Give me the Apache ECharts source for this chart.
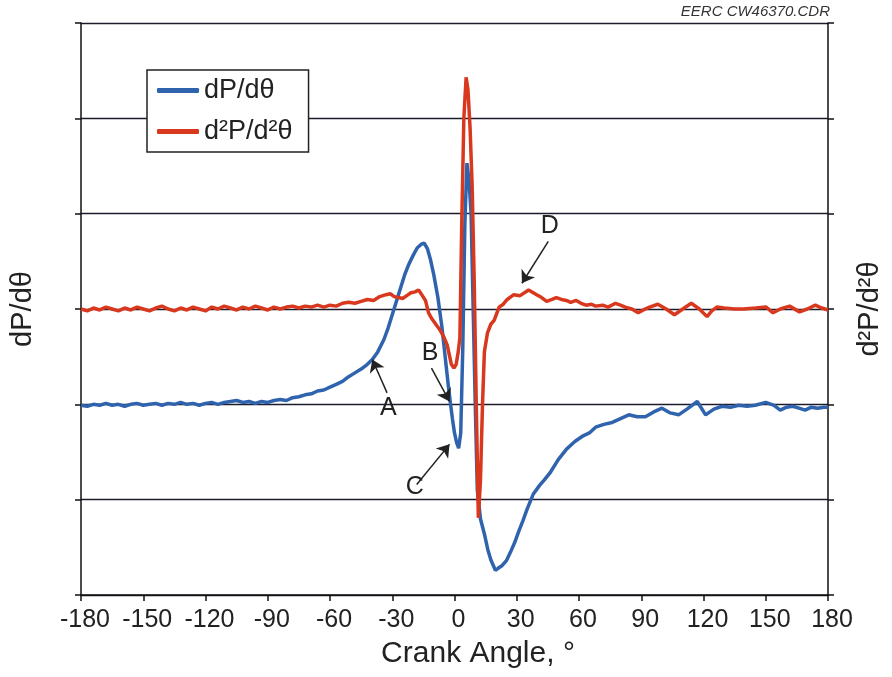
<!DOCTYPE html>
<html>
<head>
<meta charset="utf-8">
<script src="https://cdn.jsdelivr.net/npm/echarts@6/dist/echarts.min.js"></script>
<style>html,body{margin:0;padding:0;background:#fff;}#c{width:892px;height:677px;}</style>
</head>
<body>
<div id="c"></div>
<script>
// ---- data ----
const xTicks = [-180,-150,-120,-90,-60,-30,0,30,60,90,120,150,180];

const blueAngle = [-180,-177,-174,-171,-168,-165,-162,-159,-156,-153,-150,-147,-144,-141,-138,-135,-132,-129,-126,-123,-120,-117,-114,-111,-108,-105,-102,-99,-96,-93,-90,-87,-84,-81,-78,-75,-72,-69,-66,-63,-60,-57,-54,-51,-48,-45,-42,-39.6,-37,-34,-32,-30,-28,-26,-24,-22,-20,-18,-16,-14.6,-13,-11.6,-10,-8,-6,-5,-4,-3,-2,-1,0,1,2,3,4,5,6,7,8,9,10,11,12.5,14.4,16,17.5,19.7,21,23,25,27,29,31,33,35,38,41,43,46,50,54,58,62,65,68,72,76,80,84,88,92,96,100,104,108,112,117,121,125,129,133,137,141,145,150,154,157,160,163,166,169,172,175,178,180];
const dPdTheta = [-0.01,-0.02,0.00,-0.01,0.01,-0.01,0.00,-0.02,0.00,0.01,-0.01,0.00,0.01,-0.01,0.01,0.00,0.02,0.00,0.01,-0.01,0.01,0.02,0.00,0.02,0.03,0.04,0.02,0.03,0.01,0.03,0.02,0.04,0.05,0.04,0.07,0.08,0.10,0.11,0.14,0.15,0.18,0.21,0.24,0.29,0.33,0.37,0.42,0.47,0.55,0.68,0.80,0.94,1.08,1.22,1.36,1.47,1.56,1.64,1.68,1.69,1.63,1.52,1.36,1.12,0.80,0.60,0.40,0.20,0.02,-0.15,-0.30,-0.40,-0.46,-0.30,0.60,1.90,2.53,2.35,2.00,1.00,0.00,-0.90,-1.20,-1.36,-1.52,-1.63,-1.74,-1.72,-1.69,-1.64,-1.55,-1.45,-1.33,-1.22,-1.10,-0.94,-0.85,-0.80,-0.72,-0.58,-0.47,-0.39,-0.33,-0.30,-0.24,-0.21,-0.19,-0.15,-0.11,-0.13,-0.13,-0.08,-0.04,-0.09,-0.11,-0.05,0.03,-0.11,-0.05,-0.02,-0.03,-0.01,-0.02,-0.01,0.02,-0.01,-0.06,-0.03,-0.02,-0.04,-0.06,-0.03,-0.04,-0.03,-0.03];

const redAngle = [-180,-177,-174,-171,-168,-165,-162,-159,-156,-153,-150,-147,-144,-141,-138,-135,-132,-129,-126,-123,-120,-117,-114,-111,-108,-105,-102,-99,-96,-93,-90,-87,-84,-81,-78,-75,-72,-69,-66,-63,-60,-57,-54,-51,-48,-45,-42,-39,-36,-33,-31,-29,-27,-25,-23,-21,-19,-17.3,-15.5,-14,-12.5,-11,-9,-7,-5,-3.5,-2.5,-1.5,-0.3,0.8,1.8,2.6,3.5,4.5,5.6,6.5,7.5,8.5,9.5,10.5,11.5,12.5,13.5,14.4,15.9,17.5,19.1,21.5,23.5,25.4,28.6,31.6,35.7,39.6,42,44.4,47,49.1,51.5,53.9,56,58.6,61,63.4,66,68,71.4,74,77.6,80,82.3,85.5,88.5,91,94,98,102,106,110,114.1,118,121.7,124,126.4,130,135,139.3,145,150.2,153.5,157,161.5,166.3,170,173.9,177,180];
const d2Pd2Theta = [0.00,-0.02,0.01,-0.01,0.02,0.00,-0.02,0.01,-0.01,0.02,0.00,-0.02,0.01,0.03,0.00,-0.02,0.01,-0.01,0.02,0.00,-0.02,0.02,0.00,0.03,0.01,-0.01,0.02,0.00,0.03,0.01,-0.01,0.02,0.00,0.02,0.03,0.01,0.03,0.02,0.04,0.02,0.04,0.03,0.06,0.07,0.06,0.08,0.10,0.09,0.13,0.15,0.16,0.13,0.12,0.11,0.14,0.17,0.18,0.20,0.14,0.09,-0.04,-0.10,-0.16,-0.22,-0.30,-0.38,-0.48,-0.58,-0.62,-0.58,-0.45,-0.30,0.90,2.00,2.43,2.30,1.90,1.30,0.30,-1.00,-2.19,-1.80,-1.00,-0.45,-0.25,-0.16,-0.12,0.02,0.05,0.10,0.15,0.14,0.20,0.15,0.12,0.08,0.10,0.12,0.10,0.09,0.07,0.09,0.06,0.04,0.05,0.03,0.04,0.02,0.06,0.04,0.02,0.00,-0.04,-0.01,0.02,0.05,0.00,-0.06,0.00,0.06,0.00,-0.08,-0.02,0.02,0.01,0.00,0.00,0.01,0.02,-0.04,0.00,0.03,-0.03,0.00,0.04,0.01,-0.01];

// annotation arrows: [label, startAngle, startValue, tipAngle, tipValue]
const blueNotes = [['A',-32.5,0.12,-39.6,0.47],['B',-11.1,0.38,-2.4,0.03],['C',-18.2,-0.84,-2.4,-0.42]];
const redNotes = [['D',45.2,0.71,32.5,0.27]];

const seriesNames = ['dP/d\u03b8','d\u00b2P/d\u00b2\u03b8'];
// ---- chart ----
const FONT = '"Liberation Sans", Arial, sans-serif';
const pair = (a, v) => a.map((x, i) => [x, v[i]]);
const notes = n => n.map(r => [{coord:[r[1], r[2]], name:r[0]}, {coord:[r[3], r[4]]}]);
const markLineOpt = n => ({
  silent: true, symbol: ['none','arrow'], symbolSize: 12, precision: 4,
  lineStyle: {color:'#222', width:1.5, type:'solid'},
  itemStyle: {color:'#222'},
  label: {show:true, position:'start', formatter:'{b}', fontSize:25, color:'#222', fontFamily:FONT, distance:3},
  emphasis: {disabled:true},
  data: notes(n)
});

const chart = echarts.init(document.getElementById('c'), null, {renderer:'canvas'});
chart.setOption({
  animation: false,
  backgroundColor: '#fff',
  grid: {left:77, right:56, top:23, bottom:82, containLabel:false},
  legend: {
    left: 147, top: 70, orient: 'vertical',
    data: seriesNames.map(n => ({name:n, icon:'roundRect'})),
    itemWidth: 42, itemHeight: 5, itemGap: 14,
    padding: [7, 16, 7, 10],
    borderColor: '#222', borderWidth: 1.5, backgroundColor:'#fff',
    textStyle: {fontSize:27, color:'#222', fontFamily:FONT}
  },
  graphic: [{
    type:'text', right: 62, top: 4,
    style: {text:'EERC CW46370.CDR', font:'italic 15px "Liberation Sans", Arial, sans-serif', fill:'#333'}
  }],
  xAxis: {
    type:'value', min:-180, max:180, interval:30,
    name:'Crank Angle, \u00b0', nameLocation:'middle', nameGap:44,
    nameTextStyle:{fontSize:30, color:'#222', fontFamily:FONT, padding:[0,0,0,47]},
    axisLine:{show:true, onZero:false, lineStyle:{color:'#111', width:1.5}},
    axisTick:{show:true, length:6, lineStyle:{color:'#111', width:1.5}},
    axisLabel:{fontSize:25, color:'#222', fontFamily:FONT, margin:13, padding:[0,0,0,8],
      formatter: v => xTicks.indexOf(v) >= 0 ? String(v) : ''},
    splitLine:{show:false}
  },
  yAxis: [{
    type:'value', min:-2, max:4, interval:1, position:'left',
    name: seriesNames[0], nameLocation:'middle', nameRotate:90, nameGap:44,
    nameTextStyle:{fontSize:29, color:'#222', fontFamily:FONT},
    axisLine:{show:true, onZero:false, lineStyle:{color:'#111', width:1.5}},
    axisTick:{show:true, length:6, lineStyle:{color:'#111', width:1.5}},
    axisLabel:{show:false},
    splitLine:{show:true, lineStyle:{color:'#1c1c2c', width:1.3}}
  },{
    type:'value', min:-3, max:3, interval:1, position:'right',
    name: seriesNames[1], nameLocation:'middle', nameRotate:90, nameGap:27,
    nameTextStyle:{fontSize:29, color:'#222', fontFamily:FONT},
    axisLine:{show:true, onZero:false, lineStyle:{color:'#111', width:1.5}},
    axisTick:{show:true, length:6, lineStyle:{color:'#111', width:1.5}},
    axisLabel:{show:false},
    splitLine:{show:false}
  }],
  series: [{
    name: seriesNames[0], type:'line', yAxisIndex:0, data: pair(blueAngle, dPdTheta),
    showSymbol:false, symbol:'none', smooth:false, z:3,
    lineStyle:{color:'#2f63ad', width:3.5}, itemStyle:{color:'#2f63ad'},
    markLine: markLineOpt(blueNotes)
  },{
    name: seriesNames[1], type:'line', yAxisIndex:1, data: pair(redAngle, d2Pd2Theta),
    showSymbol:false, symbol:'none', smooth:false, z:4,
    lineStyle:{color:'#d8381e', width:3.5}, itemStyle:{color:'#d8381e'},
    markLine: markLineOpt(redNotes)
  }]
});
</script>
</body>
</html>
